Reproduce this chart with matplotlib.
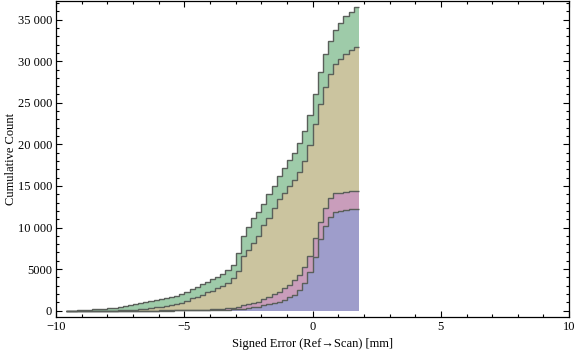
"""Stacked cumulative histogram of signed scan errors."""

import numpy as np
import matplotlib
matplotlib.use("Agg")
import matplotlib.pyplot as plt
from matplotlib.ticker import MultipleLocator, FuncFormatter

plt.rcParams["font.family"] = ["Liberation Serif", "DejaVu Serif"]

# bins of 0.2 mm from -9.6 to 1.8 mm
bin_start = -9.6
bin_width = 0.2

# cumulative counts per bin (thousands)
green = [0.0, 0.02, 0.05, 0.08, 0.12, 0.16, 0.2, 0.25, 0.3, 0.36, 0.45, 0.55,
         0.7, 0.82, 0.95, 1.05, 1.15, 1.27, 1.38, 1.5, 1.62, 1.75, 1.95, 2.3,
         2.6, 2.9, 3.2, 3.5, 3.8, 4.1, 4.4, 4.9, 5.5, 6.9, 9.0, 10.1, 11.1, 11.9,
         12.8, 14.0, 15.0, 16.2, 17.2, 18.1,
         19.0, 20.2, 21.6, 23.5, 26.1, 28.7, 30.85, 32.45, 33.7, 34.6, 35.42,
         35.94, 36.47]
tan = [0, 0, 0, 0, 0, 0, 0, 0, 0.01, 0.02, 0.04, 0.06, 0.08, 0.1, 0.15, 0.2,
       0.3, 0.4, 0.5, 0.6, 0.7, 0.82, 0.95, 1.15,
       1.5, 1.7, 1.9, 2.2, 2.4, 2.7, 3.0, 3.3, 3.9, 4.8, 6.6, 7.3, 8.1, 9.0,
       10.3, 11.1, 12.4, 13.4, 14.2, 15.0,
       15.7, 16.7, 18.0, 19.9, 22.4, 24.9, 26.9, 28.5, 29.7, 30.3, 30.85,
       31.4, 31.73]
pink = [0, 0, 0, 0, 0, 0, 0, 0, 0, 0, 0, 0, 0.01, 0.01, 0.01, 0.02, 0.02,
        0.02, 0.03, 0.03, 0.04, 0.04, 0.05, 0.07,
        0.08, 0.1, 0.1, 0.12, 0.15, 0.2, 0.25, 0.3, 0.36, 0.5, 0.65, 0.8, 0.96,
        1.1, 1.4, 1.7, 2.0, 2.3, 2.75, 3.1,
        3.7, 4.3, 5.3, 6.6, 8.7, 10.7, 12.4, 13.5, 14.1, 14.2, 14.3, 14.4,
        14.45]
blue = [0, 0, 0, 0, 0, 0, 0, 0, 0, 0, 0, 0, 0, 0, 0.01, 0.01, 0.01, 0.01,
        0.02, 0.02, 0.02, 0.03, 0.03, 0.04,
        0.04, 0.05, 0.05, 0.06, 0.07, 0.08, 0.1, 0.1, 0.15, 0.2, 0.25, 0.3, 0.4,
        0.5, 0.65, 0.8, 0.9, 1.1, 1.3, 1.6,
        1.9, 2.5, 3.3, 4.6, 6.5, 8.6, 10.2, 11.3, 11.9, 12.0, 12.1, 12.2,
        12.25]

series = [green, tan, pink, blue]
colors = ["#9ecba9", "#cbc49f", "#c99dbb", "#9e9dcb"]

n_bins = len(green)
edges = np.round(bin_start + bin_width * np.arange(n_bins + 1), 1)

fig = plt.figure(figsize=(5.76, 3.57), dpi=100)
ax = fig.add_axes([0.0975, 0.113, 0.8905, 0.884])

for vals, col in zip(series, colors):
    v = np.array(vals) * 1000
    ax.stairs(v, edges, baseline=0, fill=True, color=col, lw=0)
    ax.stairs(v, edges, baseline=None, color="#5a5f5a", lw=1.0)

ax.set_xlim(-10, 10)
ax.set_ylim(-720, 37230)

ax.xaxis.set_major_locator(MultipleLocator(5))
ax.xaxis.set_minor_locator(MultipleLocator(1))
ax.yaxis.set_major_locator(MultipleLocator(5000))
ax.yaxis.set_minor_locator(MultipleLocator(1000))


def fmt_y(v, pos):
    v = int(round(v))
    if v >= 10000:
        return f"{v:,}".replace(",", " ")
    return str(v)


def fmt_x(v, pos):
    v = int(round(v))
    return f"\u2212{-v}" if v < 0 else str(v)


ax.yaxis.set_major_formatter(FuncFormatter(fmt_y))
ax.xaxis.set_major_formatter(FuncFormatter(fmt_x))

ax.tick_params(which="both", direction="in", top=True, right=True,
               labelsize=9, width=0.8, pad=3)
ax.tick_params(which="major", length=4)
ax.tick_params(which="minor", length=2)
for s in ax.spines.values():
    s.set_linewidth(0.9)

ax.set_xlabel("Signed Error (Ref\u2192Scan) [mm]", fontsize=9)
ax.set_ylabel("Cumulative Count", fontsize=9)
ax.xaxis.set_label_coords(0.5, -0.068)
ax.yaxis.set_label_coords(-0.077, 0.5)

fig.savefig("out.png", dpi=100)
